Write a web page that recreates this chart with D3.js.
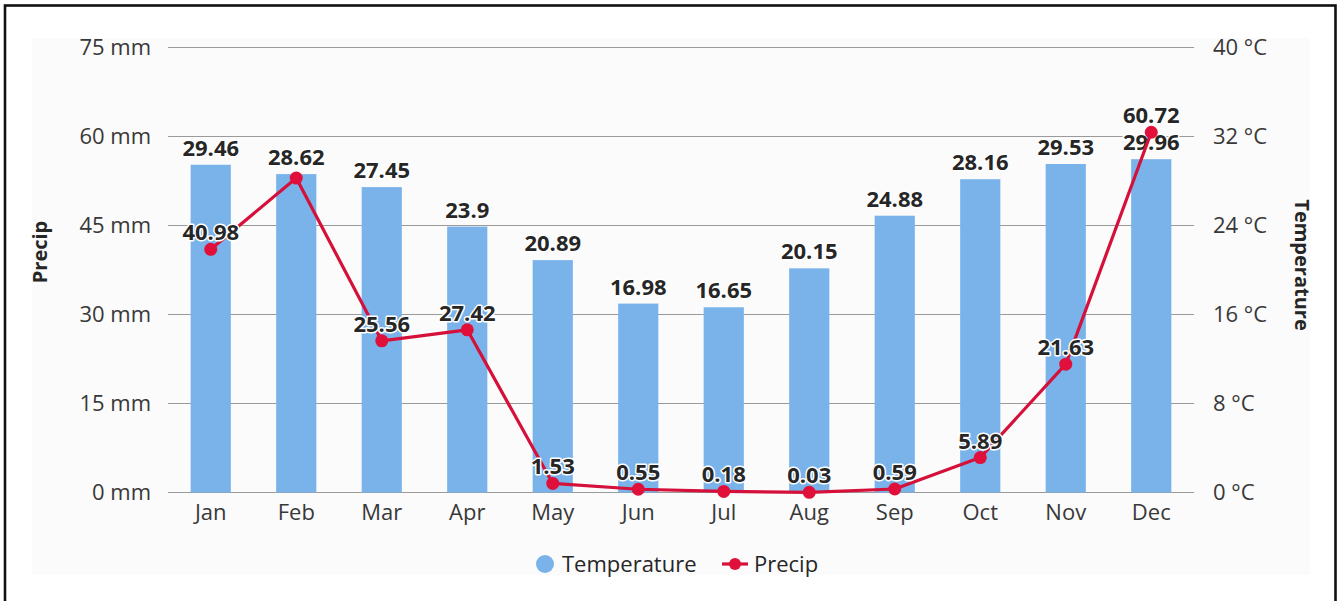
<!DOCTYPE html>
<html>
<head>
<meta charset="utf-8">
<script src="https://cdn.jsdelivr.net/npm/d3@7"></script>
<style>
html,body{margin:0;padding:0;background:#fff;}
svg{display:block;}
text{font-family:"Open Sans","Noto Sans",sans-serif;}
</style>
</head>
<body>
<svg id="chart" width="1341" height="601"></svg>
<script>
const months = ["Jan","Feb","Mar","Apr","May","Jun","Jul","Aug","Sep","Oct","Nov","Dec"];
const temperature = [29.46,28.62,27.45,23.9,20.89,16.98,16.65,20.15,24.88,28.16,29.53,29.96];
const precip = [40.98,53.0,25.56,27.42,1.53,0.55,0.18,0.03,0.59,5.89,21.63,60.72];
const precipLabelHidden = ["Feb"];
const precipTicks = [0,15,30,45,60,75];
const tempTicks = [0,8,16,24,32,40];

(function(){
const svg = d3.select("#chart");
const pLeft = 168, pRight = 1194, pTop = 47.5, pBottom = 492.5;

// frame & panel
svg.append("rect").attr("x",32).attr("y",38).attr("width",1278).attr("height",537).attr("fill","#fbfbfb");
svg.append("rect").attr("x",5).attr("y",5.5).attr("width",1330.5).attr("height",610)
  .attr("fill","none").attr("stroke","#111").attr("stroke-width",2.6);

const x = d3.scaleBand().domain(months).range([pLeft,pRight]).paddingInner(0.53).paddingOuter(0.265);
const yP = d3.scaleLinear().domain([0,75]).range([pBottom,pTop]);
const yT = d3.scaleLinear().domain([0,40]).range([pBottom,pTop]);

// gridlines
svg.append("g").selectAll("line").data(precipTicks).join("line")
  .attr("x1",pLeft).attr("x2",pRight)
  .attr("y1",d=>yP(d)).attr("y2",d=>yP(d))
  .attr("stroke","#9a9a9a").attr("stroke-width",1.2);

// left axis
const axL = svg.append("g").attr("transform",`translate(${pLeft},0)`)
  .call(d3.axisLeft(yP).tickValues(precipTicks).tickFormat(d=>d+" mm").tickSize(0).tickPadding(17));
axL.select(".domain").remove();
axL.selectAll("text").attr("font-size",22).attr("fill","#383838").attr("font-family","Open Sans");

// right axis
const axR = svg.append("g").attr("transform",`translate(${pRight},0)`)
  .call(d3.axisRight(yT).tickValues(tempTicks).tickFormat(d=>d+" °C").tickSize(0).tickPadding(19));
axR.select(".domain").remove();
axR.selectAll("text").attr("font-size",22).attr("fill","#383838").attr("font-family","Open Sans");

// bottom axis
const axB = svg.append("g").attr("transform",`translate(0,${pBottom})`)
  .call(d3.axisBottom(x).tickSize(0).tickPadding(12));
axB.select(".domain").remove();
axB.selectAll("text").attr("font-size",22).attr("fill","#383838").attr("font-family","Open Sans");

// bars
svg.append("g").selectAll("rect").data(months).join("rect")
  .attr("x",d=>x(d)).attr("width",x.bandwidth())
  .attr("y",(d,i)=>yT(temperature[i])).attr("height",(d,i)=>pBottom-yT(temperature[i]))
  .attr("fill","#79b3ea");

const cx = d=>x(d)+x.bandwidth()/2;

// labels
function label(g, xx, yy, t){
  g.append("text").attr("x",xx).attr("y",yy).attr("text-anchor","middle")
   .attr("font-size",22).attr("font-weight","bold").attr("fill","#262626")
   .attr("stroke","#fff").attr("stroke-width",3).attr("paint-order","stroke")
   .attr("stroke-linejoin","round").text(t);
}
const bl = svg.append("g");
months.forEach((m,i)=>label(bl, cx(m), yT(temperature[i])-9, String(temperature[i])));

// line
const line = d3.line().x((d,i)=>cx(months[i])).y(d=>yP(d));
svg.append("path").datum(precip).attr("d",line)
  .attr("fill","none").attr("stroke","#d5103a").attr("stroke-width",3.2).attr("stroke-linejoin","round");
svg.append("g").selectAll("circle").data(precip).join("circle")
  .attr("cx",(d,i)=>cx(months[i])).attr("cy",d=>yP(d)).attr("r",6.5).attr("fill","#e0103a");

const pl = svg.append("g");
months.forEach((m,i)=>{ if(!precipLabelHidden.includes(m)) label(pl, cx(m), yP(precip[i])-9, String(precip[i])); });

// axis titles
svg.append("text").attr("transform","translate(47,252) rotate(-90)").attr("text-anchor","middle")
  .attr("font-size",20).attr("font-weight","bold").attr("fill","#262626").text("Precip");
svg.append("text").attr("transform","translate(1295,265) rotate(90)").attr("text-anchor","middle")
  .attr("font-size",20).attr("font-weight","bold").attr("fill","#262626").text("Temperature");

// legend
const leg = svg.append("g");
leg.append("circle").attr("cx",545).attr("cy",564).attr("r",9).attr("fill","#79b3ea");
leg.append("text").attr("x",562).attr("y",572).attr("font-size",22).attr("fill","#262626").text("Temperature");
leg.append("line").attr("x1",722).attr("x2",748).attr("y1",564).attr("y2",564).attr("stroke","#d5103a").attr("stroke-width",3.2);
leg.append("circle").attr("cx",735).attr("cy",564).attr("r",6).attr("fill","#e0103a");
leg.append("text").attr("x",754).attr("y",572).attr("font-size",22).attr("fill","#262626").text("Precip");
})();
</script>
</body>
</html>
